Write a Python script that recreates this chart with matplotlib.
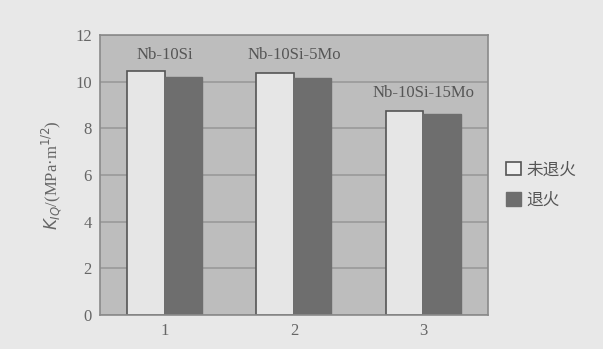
import matplotlib
matplotlib.use("Agg")
import matplotlib.pyplot as plt
from matplotlib.patches import Patch
import numpy as np

groups = [1, 2, 3]
alloys = ["Nb-10Si", "Nb-10Si-5Mo", "Nb-10Si-15Mo"]
unannealed = [10.45, 10.35, 8.75]
annealed = [10.2, 10.15, 8.6]
series_names = ["未退火", "退火"]
yticks = [0, 2, 4, 6, 8, 10, 12]

fig = plt.figure(figsize=(6.03, 3.49), dpi=100, facecolor="#e8e8e8")
ax = fig.add_axes([0.166, 0.097, 0.643, 0.803])
ax.set_facecolor("#bdbdbd")

x = np.array(groups, dtype=float)
w = 0.29
ax.set_axisbelow(True)
ax.yaxis.grid(True, color="#9a9a9a", linewidth=1.2)
ax.bar(x - w/2, unannealed, width=w, color="#e6e6e6", edgecolor="#555555", linewidth=1.2, label=series_names[0])
ax.bar(x + w/2, annealed, width=w, color="#6e6e6e", edgecolor="#6e6e6e", linewidth=1.0, label=series_names[1])

offsets = [0.35, 0.45, 0.4]
for xi, name, v, off in zip(x, alloys, unannealed, offsets):
    ax.text(xi, v + off, name, ha="center", va="bottom", fontsize=12,
            family="Liberation Serif", color="#555555")

ax.set_xlim(0.5, 3.5)
ax.set_ylim(0, 12)
ax.set_yticks(yticks)
ax.set_xticks(groups)
ax.tick_params(axis="both", length=0, labelsize=12, colors="#666666", pad=6)
for lab in ax.get_xticklabels() + ax.get_yticklabels():
    lab.set_family("Liberation Serif")
for s in ax.spines.values():
    s.set_color("#8a8a8a")
    s.set_linewidth(1.2)

ax.set_ylabel(r"$K_{IQ}$/(MPa·m$^{1/2}$)", fontsize=12, color="#666666",
              family="Liberation Serif", labelpad=8)

handles = [Patch(facecolor="#f0f0f0", edgecolor="#555555", linewidth=1.2),
           Patch(facecolor="#6e6e6e", edgecolor="#6e6e6e")]
fig.legend(handles, series_names, loc="center left", bbox_to_anchor=(0.815, 0.47),
           frameon=False, prop={"family": ["Noto Sans CJK SC", "DejaVu Sans"], "size": 12},
           labelcolor="#555555", handlelength=0.9, handleheight=0.9, handletextpad=0.3,
           labelspacing=0.8)

fig.savefig("out.png", dpi=100, facecolor=fig.get_facecolor())
